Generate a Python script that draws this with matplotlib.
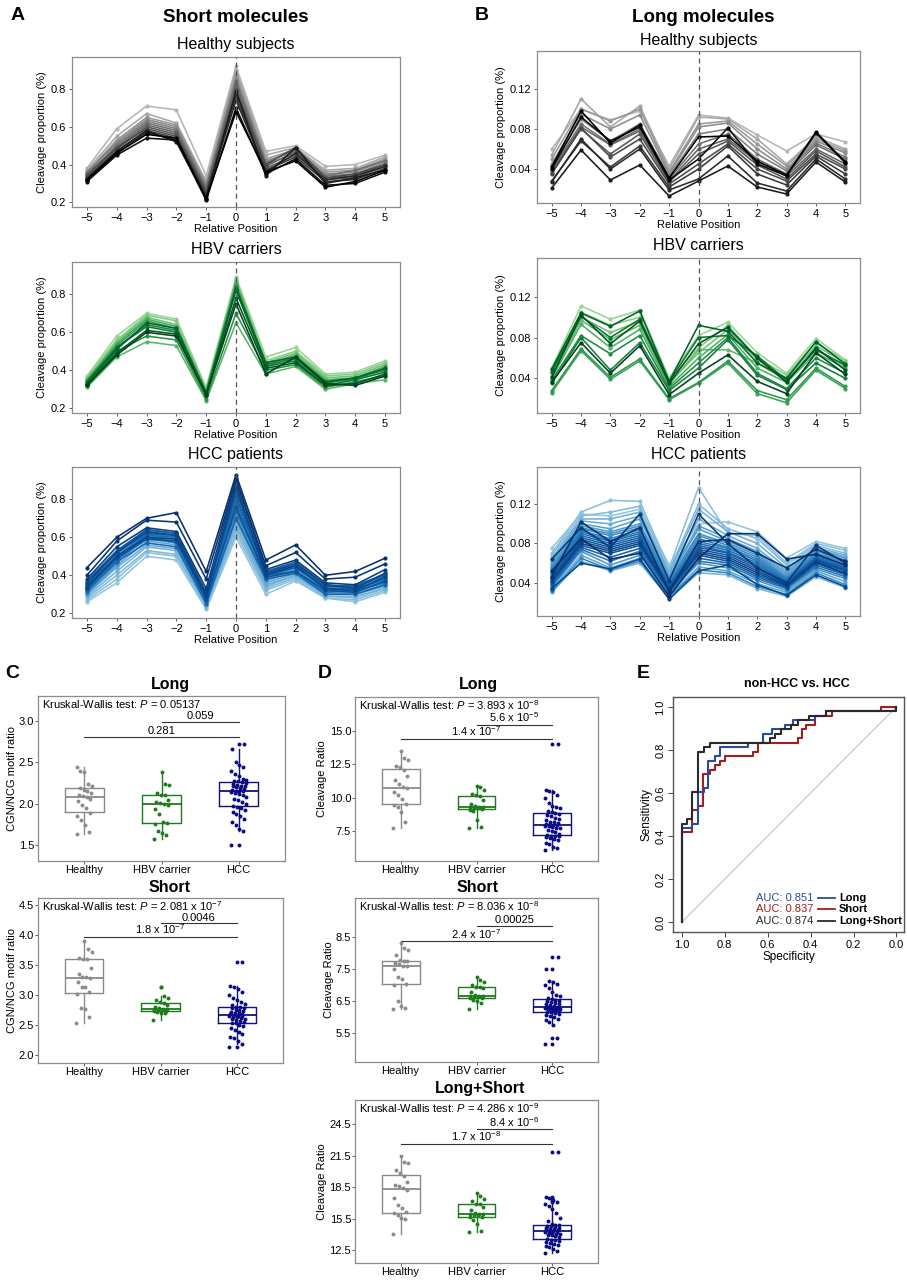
import numpy as np
import matplotlib
matplotlib.use("Agg")
import matplotlib.pyplot as plt

plt.rcParams["font.family"] = ["Liberation Sans", "DejaVu Sans"]
plt.rcParams["mathtext.fontset"] = "custom"
plt.rcParams["mathtext.rm"] = "Liberation Sans"
plt.rcParams["mathtext.it"] = "Liberation Sans:italic"
plt.rcParams["mathtext.bf"] = "Liberation Sans:bold"

# ---------------- data ----------------
positions = list(range(-5, 6))

short_healthy = [
    [0.38, 0.59, 0.71, 0.69, 0.34, 0.92, 0.47, 0.50, 0.39, 0.40, 0.45],
    [0.37, 0.55, 0.67, 0.62, 0.31, 0.90, 0.45, 0.49, 0.37, 0.38, 0.44],
    [0.36, 0.53, 0.65, 0.61, 0.30, 0.88, 0.43, 0.48, 0.36, 0.37, 0.43],
    [0.35, 0.52, 0.64, 0.60, 0.29, 0.86, 0.42, 0.47, 0.35, 0.36, 0.42],
    [0.36, 0.51, 0.63, 0.59, 0.28, 0.85, 0.41, 0.48, 0.34, 0.35, 0.41],
    [0.34, 0.50, 0.62, 0.58, 0.27, 0.84, 0.40, 0.46, 0.34, 0.37, 0.42],
    [0.35, 0.49, 0.61, 0.57, 0.27, 0.82, 0.39, 0.47, 0.33, 0.34, 0.40],
    [0.33, 0.48, 0.60, 0.56, 0.26, 0.80, 0.38, 0.45, 0.32, 0.33, 0.39],
    [0.34, 0.49, 0.59, 0.55, 0.25, 0.78, 0.40, 0.49, 0.33, 0.35, 0.40],
    [0.33, 0.47, 0.58, 0.54, 0.24, 0.76, 0.37, 0.44, 0.31, 0.32, 0.38],
    [0.32, 0.46, 0.57, 0.53, 0.23, 0.74, 0.36, 0.46, 0.32, 0.34, 0.39],
    [0.32, 0.47, 0.58, 0.52, 0.22, 0.79, 0.34, 0.49, 0.30, 0.33, 0.37],
    [0.31, 0.45, 0.54, 0.53, 0.21, 0.70, 0.35, 0.43, 0.29, 0.30, 0.36],
    [0.32, 0.46, 0.56, 0.54, 0.22, 0.68, 0.36, 0.42, 0.28, 0.31, 0.37],
]
short_hbv = [
    [0.37, 0.58, 0.70, 0.67, 0.31, 0.89, 0.47, 0.52, 0.38, 0.39, 0.45],
    [0.36, 0.56, 0.69, 0.66, 0.30, 0.88, 0.45, 0.50, 0.37, 0.38, 0.44],
    [0.35, 0.55, 0.68, 0.64, 0.29, 0.87, 0.44, 0.49, 0.36, 0.37, 0.43],
    [0.31, 0.47, 0.55, 0.53, 0.24, 0.65, 0.38, 0.42, 0.30, 0.33, 0.35],
    [0.34, 0.54, 0.67, 0.63, 0.29, 0.86, 0.43, 0.48, 0.35, 0.36, 0.42],
    [0.35, 0.53, 0.66, 0.62, 0.28, 0.85, 0.42, 0.47, 0.34, 0.35, 0.41],
    [0.32, 0.50, 0.58, 0.56, 0.25, 0.70, 0.40, 0.43, 0.31, 0.34, 0.37],
    [0.33, 0.52, 0.64, 0.61, 0.28, 0.84, 0.43, 0.46, 0.33, 0.36, 0.40],
    [0.34, 0.52, 0.63, 0.60, 0.27, 0.82, 0.42, 0.45, 0.32, 0.35, 0.39],
    [0.33, 0.51, 0.65, 0.62, 0.28, 0.83, 0.44, 0.47, 0.34, 0.36, 0.41],
    [0.32, 0.49, 0.61, 0.59, 0.27, 0.78, 0.41, 0.44, 0.32, 0.33, 0.38],
    [0.32, 0.48, 0.60, 0.58, 0.27, 0.75, 0.38, 0.47, 0.33, 0.32, 0.37],
]
short_hcc = [
    [0.26, 0.36, 0.50, 0.48, 0.22, 0.60, 0.30, 0.37, 0.28, 0.26, 0.31],
    [0.27, 0.38, 0.52, 0.50, 0.23, 0.62, 0.32, 0.38, 0.28, 0.27, 0.32],
    [0.28, 0.40, 0.53, 0.51, 0.24, 0.64, 0.33, 0.39, 0.29, 0.28, 0.33],
    [0.29, 0.42, 0.55, 0.53, 0.24, 0.66, 0.34, 0.40, 0.29, 0.29, 0.33],
    [0.30, 0.44, 0.56, 0.54, 0.25, 0.68, 0.35, 0.40, 0.30, 0.30, 0.34],
    [0.31, 0.45, 0.58, 0.56, 0.26, 0.70, 0.36, 0.41, 0.31, 0.30, 0.35],
    [0.32, 0.47, 0.59, 0.57, 0.26, 0.71, 0.37, 0.42, 0.31, 0.31, 0.35],
    [0.33, 0.48, 0.60, 0.58, 0.27, 0.73, 0.38, 0.43, 0.32, 0.32, 0.36],
    [0.30, 0.46, 0.62, 0.60, 0.26, 0.72, 0.39, 0.43, 0.33, 0.33, 0.37],
    [0.34, 0.49, 0.61, 0.59, 0.28, 0.75, 0.39, 0.44, 0.32, 0.32, 0.37],
    [0.35, 0.50, 0.62, 0.60, 0.29, 0.77, 0.40, 0.45, 0.33, 0.33, 0.38],
    [0.33, 0.51, 0.63, 0.61, 0.28, 0.78, 0.41, 0.44, 0.34, 0.34, 0.39],
    [0.36, 0.52, 0.64, 0.62, 0.30, 0.80, 0.42, 0.46, 0.34, 0.35, 0.40],
    [0.31, 0.48, 0.60, 0.57, 0.27, 0.74, 0.40, 0.42, 0.31, 0.32, 0.36],
    [0.34, 0.50, 0.61, 0.60, 0.28, 0.79, 0.41, 0.45, 0.33, 0.33, 0.38],
    [0.32, 0.47, 0.57, 0.55, 0.25, 0.70, 0.38, 0.41, 0.30, 0.30, 0.35],
    [0.35, 0.52, 0.62, 0.61, 0.30, 0.82, 0.40, 0.44, 0.34, 0.34, 0.40],
    [0.37, 0.53, 0.64, 0.62, 0.31, 0.84, 0.42, 0.47, 0.35, 0.34, 0.41],
    [0.33, 0.49, 0.59, 0.58, 0.27, 0.76, 0.39, 0.42, 0.32, 0.31, 0.37],
    [0.36, 0.52, 0.63, 0.61, 0.30, 0.86, 0.41, 0.46, 0.35, 0.33, 0.41],
    [0.34, 0.50, 0.60, 0.59, 0.29, 0.88, 0.40, 0.45, 0.33, 0.32, 0.39],
    [0.38, 0.55, 0.65, 0.63, 0.33, 0.90, 0.43, 0.48, 0.36, 0.35, 0.43],
    [0.40, 0.58, 0.69, 0.68, 0.38, 0.91, 0.45, 0.52, 0.38, 0.39, 0.46],
    [0.44, 0.60, 0.70, 0.73, 0.42, 0.93, 0.48, 0.56, 0.40, 0.42, 0.49],
]

long_healthy = [
    [0.060, 0.100, 0.089, 0.098, 0.043, 0.094, 0.091, 0.074, 0.058, 0.075, 0.067],
    [0.054, 0.110, 0.082, 0.103, 0.040, 0.092, 0.090, 0.070, 0.045, 0.072, 0.060],
    [0.050, 0.100, 0.088, 0.100, 0.037, 0.085, 0.088, 0.065, 0.043, 0.070, 0.058],
    [0.045, 0.095, 0.080, 0.094, 0.035, 0.082, 0.086, 0.060, 0.040, 0.068, 0.056],
    [0.043, 0.090, 0.068, 0.085, 0.033, 0.075, 0.080, 0.055, 0.038, 0.066, 0.052],
    [0.040, 0.085, 0.065, 0.080, 0.030, 0.065, 0.075, 0.050, 0.035, 0.064, 0.050],
    [0.038, 0.082, 0.064, 0.078, 0.028, 0.060, 0.070, 0.047, 0.033, 0.060, 0.045],
    [0.036, 0.080, 0.055, 0.075, 0.027, 0.055, 0.068, 0.044, 0.030, 0.058, 0.042],
    [0.035, 0.081, 0.052, 0.070, 0.025, 0.045, 0.065, 0.040, 0.028, 0.055, 0.040],
    [0.028, 0.068, 0.042, 0.063, 0.022, 0.040, 0.063, 0.035, 0.024, 0.053, 0.035],
    [0.027, 0.070, 0.040, 0.060, 0.019, 0.030, 0.053, 0.026, 0.018, 0.050, 0.030],
    [0.021, 0.059, 0.029, 0.044, 0.013, 0.028, 0.043, 0.022, 0.015, 0.047, 0.027],
    [0.040, 0.092, 0.068, 0.082, 0.029, 0.050, 0.081, 0.045, 0.033, 0.076, 0.046],
    [0.042, 0.098, 0.066, 0.084, 0.031, 0.072, 0.073, 0.048, 0.034, 0.077, 0.047],
]
long_hbv = [
    [0.050, 0.111, 0.098, 0.107, 0.040, 0.082, 0.095, 0.065, 0.045, 0.079, 0.058],
    [0.048, 0.105, 0.092, 0.100, 0.038, 0.070, 0.092, 0.060, 0.043, 0.075, 0.057],
    [0.045, 0.100, 0.085, 0.096, 0.036, 0.065, 0.088, 0.058, 0.040, 0.072, 0.055],
    [0.042, 0.097, 0.078, 0.092, 0.034, 0.068, 0.068, 0.055, 0.038, 0.068, 0.052],
    [0.040, 0.093, 0.070, 0.088, 0.032, 0.060, 0.083, 0.050, 0.036, 0.065, 0.050],
    [0.026, 0.067, 0.039, 0.057, 0.019, 0.035, 0.055, 0.025, 0.016, 0.048, 0.030],
    [0.028, 0.069, 0.041, 0.059, 0.020, 0.036, 0.057, 0.028, 0.019, 0.050, 0.032],
    [0.038, 0.082, 0.064, 0.082, 0.030, 0.055, 0.080, 0.045, 0.030, 0.060, 0.045],
    [0.035, 0.080, 0.048, 0.075, 0.028, 0.050, 0.078, 0.043, 0.029, 0.055, 0.040],
    [0.046, 0.101, 0.080, 0.098, 0.037, 0.080, 0.082, 0.062, 0.038, 0.068, 0.053],
    [0.049, 0.104, 0.091, 0.106, 0.037, 0.092, 0.086, 0.055, 0.040, 0.076, 0.054],
    [0.041, 0.102, 0.074, 0.096, 0.035, 0.074, 0.090, 0.060, 0.036, 0.070, 0.048],
    [0.036, 0.075, 0.045, 0.072, 0.024, 0.045, 0.063, 0.037, 0.025, 0.065, 0.044],
]
long_hcc = [
    [0.075, 0.110, 0.108, 0.115, 0.058, 0.100, 0.102, 0.092, 0.065, 0.082, 0.075],
    [0.070, 0.112, 0.124, 0.123, 0.055, 0.137, 0.090, 0.088, 0.060, 0.080, 0.073],
    [0.068, 0.108, 0.112, 0.118, 0.052, 0.120, 0.095, 0.085, 0.058, 0.078, 0.070],
    [0.030, 0.062, 0.052, 0.060, 0.024, 0.050, 0.048, 0.034, 0.026, 0.046, 0.035],
    [0.065, 0.105, 0.105, 0.112, 0.050, 0.115, 0.092, 0.080, 0.055, 0.076, 0.068],
    [0.062, 0.103, 0.100, 0.108, 0.048, 0.105, 0.088, 0.075, 0.052, 0.075, 0.066],
    [0.033, 0.068, 0.055, 0.065, 0.027, 0.056, 0.052, 0.039, 0.030, 0.052, 0.041],
    [0.060, 0.100, 0.095, 0.105, 0.046, 0.098, 0.085, 0.072, 0.050, 0.074, 0.065],
    [0.058, 0.098, 0.092, 0.100, 0.045, 0.095, 0.082, 0.070, 0.048, 0.072, 0.063],
    [0.035, 0.072, 0.058, 0.068, 0.029, 0.060, 0.055, 0.042, 0.032, 0.054, 0.044],
    [0.056, 0.096, 0.090, 0.098, 0.043, 0.090, 0.080, 0.068, 0.046, 0.070, 0.062],
    [0.055, 0.095, 0.088, 0.096, 0.042, 0.088, 0.078, 0.066, 0.045, 0.070, 0.060],
    [0.031, 0.065, 0.053, 0.062, 0.026, 0.053, 0.050, 0.036, 0.028, 0.050, 0.038],
    [0.053, 0.093, 0.085, 0.094, 0.040, 0.085, 0.076, 0.064, 0.044, 0.068, 0.058],
    [0.052, 0.092, 0.083, 0.092, 0.039, 0.082, 0.075, 0.062, 0.043, 0.067, 0.057],
    [0.036, 0.074, 0.062, 0.072, 0.030, 0.062, 0.058, 0.044, 0.034, 0.056, 0.046],
    [0.050, 0.090, 0.082, 0.090, 0.038, 0.080, 0.073, 0.060, 0.042, 0.066, 0.056],
    [0.048, 0.088, 0.080, 0.088, 0.037, 0.078, 0.071, 0.058, 0.041, 0.065, 0.055],
    [0.038, 0.076, 0.066, 0.075, 0.031, 0.065, 0.060, 0.046, 0.035, 0.058, 0.048],
    [0.046, 0.086, 0.078, 0.086, 0.036, 0.076, 0.070, 0.056, 0.040, 0.064, 0.054],
    [0.045, 0.084, 0.076, 0.084, 0.035, 0.074, 0.068, 0.054, 0.039, 0.063, 0.053],
    [0.040, 0.078, 0.070, 0.078, 0.032, 0.068, 0.062, 0.048, 0.036, 0.060, 0.049],
    [0.043, 0.082, 0.074, 0.082, 0.034, 0.072, 0.066, 0.052, 0.038, 0.062, 0.052],
    [0.034, 0.060, 0.054, 0.064, 0.023, 0.052, 0.058, 0.038, 0.027, 0.048, 0.036],
    [0.042, 0.080, 0.072, 0.080, 0.033, 0.070, 0.064, 0.050, 0.037, 0.061, 0.050],
    [0.064, 0.096, 0.076, 0.110, 0.042, 0.110, 0.080, 0.055, 0.040, 0.078, 0.060],
    [0.046, 0.102, 0.082, 0.096, 0.030, 0.082, 0.084, 0.070, 0.055, 0.074, 0.062],
    [0.052, 0.085, 0.064, 0.070, 0.026, 0.065, 0.090, 0.090, 0.064, 0.069, 0.058],
]

groups = ["Healthy", "HBV carrier", "HCC"]

# CGN/NCG motif ratio
motif_long_healthy = [1.63, 1.66, 1.75, 1.80, 1.85, 1.89, 1.95, 1.99, 2.03, 2.06, 2.08,
                      2.09, 2.11, 2.13, 2.15, 2.17, 2.19, 2.21, 2.24, 2.38, 2.40, 2.44]
motif_long_hbv = [1.58, 1.62, 1.65, 1.67, 1.76, 1.77, 1.78, 1.88, 1.94, 1.99,
                  2.00, 2.01, 2.02, 2.05, 2.10, 2.11, 2.13, 2.23, 2.24, 2.38]
motif_long_hcc = [1.50, 1.67, 1.70, 1.74, 1.78, 1.82, 1.85, 1.88, 1.90, 1.93, 1.95, 1.96,
                  1.97, 2.00, 2.02, 2.04, 2.06, 2.08, 2.10, 2.12, 2.13, 2.14, 2.15, 2.15,
                  2.16, 2.17, 2.18, 2.19, 2.20, 2.21, 2.22, 2.22, 2.23, 2.24, 2.25, 2.26,
                  2.27, 2.28, 2.29, 2.30, 2.33, 2.36, 2.40, 2.44, 2.47, 2.50, 2.66, 2.72]
motif_short_healthy = [2.54, 2.64, 2.77, 2.78, 3.02, 3.05, 3.13, 3.14, 3.22, 3.28,
                       3.30, 3.31, 3.36, 3.45, 3.60, 3.61, 3.62, 3.72, 3.77, 3.91]
motif_short_hbv = [2.59, 2.70, 2.71, 2.72, 2.73, 2.74, 2.75, 2.76, 2.76, 2.77,
                   2.77, 2.78, 2.80, 2.83, 2.87, 2.88, 2.92, 2.96, 2.99, 3.13]
motif_short_hcc = [2.14, 2.19, 2.23, 2.28, 2.31, 2.35, 2.39, 2.42, 2.45, 2.48, 2.50, 2.53,
                   2.54, 2.56, 2.57, 2.59, 2.60, 2.61, 2.62, 2.63, 2.64, 2.65, 2.66, 2.66,
                   2.67, 2.68, 2.69, 2.70, 2.71, 2.72, 2.74, 2.75, 2.76, 2.78, 2.79, 2.80,
                   2.81, 2.83, 2.86, 2.89, 2.92, 2.96, 3.00, 3.05, 3.10, 3.14, 3.16, 3.55]

# cleavage ratio
ratio_long_healthy = [7.7, 8.2, 8.9, 9.3, 9.45, 9.5, 9.9, 10.2, 10.4, 10.7,
                      10.8, 11.0, 11.3, 11.6, 12.1, 12.3, 12.4, 12.8, 13.0, 13.5]
ratio_long_hbv = [7.7, 7.8, 8.3, 9.0, 9.1, 9.15, 9.2, 9.25, 9.3, 9.3,
                  9.3, 9.4, 9.5, 9.8, 10.1, 10.2, 10.3, 10.6, 10.8, 10.9]
ratio_long_hcc = [6.1, 6.2, 6.3, 6.5, 6.6, 6.8, 6.9, 7.0, 7.05, 7.1, 7.12, 7.15,
                  7.2, 7.3, 7.4, 7.5, 7.6, 7.7, 7.75, 7.8, 7.85, 7.9, 7.92, 7.95,
                  7.97, 8.0, 8.1, 8.15, 8.2, 8.3, 8.4, 8.5, 8.6, 8.7, 8.8, 8.85,
                  8.9, 9.0, 9.2, 9.3, 9.4, 9.6, 10.0, 10.2, 10.4, 10.5, 10.6, 14.0]
ratio_short_healthy = [6.25, 6.3, 6.35, 6.5, 7.0, 7.05, 7.2, 7.25, 7.5, 7.6,
                       7.6, 7.65, 7.7, 7.75, 7.75, 7.8, 7.95, 8.1, 8.15, 8.3]
ratio_short_hbv = [6.25, 6.45, 6.5, 6.55, 6.6, 6.6, 6.62, 6.63, 6.65, 6.65,
                   6.66, 6.7, 6.8, 6.9, 6.95, 6.95, 7.0, 7.1, 7.15, 7.25]
ratio_short_hcc = [5.15, 5.35, 5.75, 5.85, 5.9, 5.95, 6.0, 6.05, 6.08, 6.1, 6.12, 6.15,
                   6.17, 6.18, 6.2, 6.22, 6.23, 6.24, 6.25, 6.26, 6.27, 6.28, 6.29, 6.3,
                   6.31, 6.32, 6.33, 6.35, 6.37, 6.4, 6.42, 6.45, 6.48, 6.5, 6.52, 6.55,
                   6.57, 6.6, 6.65, 6.7, 6.8, 6.9, 7.0, 7.05, 7.1, 7.12, 7.5, 7.87]
ratio_both_healthy = [14.0, 15.5, 15.6, 15.8, 16.0, 16.1, 16.5, 16.8, 17.5, 18.2,
                      18.4, 18.6, 18.7, 19.0, 19.6, 19.8, 20.1, 20.8, 20.9, 21.5]
ratio_both_hbv = [14.2, 14.3, 15.0, 15.4, 15.7, 15.7, 15.8, 15.85, 15.9, 15.9,
                  15.95, 16.0, 16.3, 16.6, 16.85, 16.9, 17.2, 17.4, 17.7, 17.9]
ratio_both_hcc = [12.2, 12.4, 12.6, 12.8, 12.9, 13.0, 13.1, 13.2, 13.3, 13.4, 13.45, 13.5,
                  13.6, 13.7, 13.8, 13.9, 13.95, 14.0, 14.05, 14.1, 14.15, 14.2, 14.25, 14.3,
                  14.35, 14.4, 14.45, 14.5, 14.55, 14.6, 14.65, 14.7, 14.75, 14.8, 14.85, 14.9,
                  15.0, 15.3, 15.6, 16.0, 16.4, 16.7, 16.9, 17.1, 17.3, 17.5, 17.6, 21.8]

# ROC curves (specificity, sensitivity step vertices)
roc_long_spec = [1.0, 1.0, 0.951, 0.951, 0.925, 0.925, 0.897, 0.897, 0.875, 0.875, 0.845, 0.845,
                 0.82, 0.82, 0.69, 0.69, 0.62, 0.62, 0.58, 0.58, 0.52, 0.52, 0.48, 0.48,
                 0.38, 0.38, 0.33, 0.33, 0.0, 0.0]
roc_long_sens = [0.0, 0.438, 0.438, 0.458, 0.458, 0.604, 0.604, 0.625, 0.625, 0.75, 0.75, 0.771,
                 0.771, 0.812, 0.812, 0.833, 0.833, 0.875, 0.875, 0.896, 0.896, 0.917, 0.917, 0.938,
                 0.938, 0.958, 0.958, 0.979, 0.979, 1.0]
roc_short_spec = [1.0, 1.0, 0.951, 0.951, 0.925, 0.925, 0.90, 0.90, 0.87, 0.87, 0.845, 0.845,
                  0.82, 0.82, 0.80, 0.80, 0.667, 0.667, 0.644, 0.644, 0.46, 0.46, 0.44, 0.44,
                  0.42, 0.42, 0.38, 0.38, 0.30, 0.30, 0.07, 0.07, 0.0]
roc_short_sens = [0.0, 0.417, 0.417, 0.521, 0.521, 0.542, 0.542, 0.688, 0.688, 0.708, 0.708, 0.729,
                  0.729, 0.75, 0.75, 0.771, 0.771, 0.792, 0.792, 0.833, 0.833, 0.854, 0.854, 0.896,
                  0.896, 0.917, 0.917, 0.958, 0.958, 0.979, 0.979, 1.0, 1.0]
roc_both_spec = [1.0, 1.0, 0.977, 0.977, 0.951, 0.951, 0.925, 0.925, 0.897, 0.897, 0.87, 0.87,
                 0.59, 0.59, 0.567, 0.567, 0.536, 0.536, 0.49, 0.49, 0.46, 0.46, 0.405, 0.405,
                 0.33, 0.33, 0.0, 0.0]
roc_both_sens = [0.0, 0.458, 0.458, 0.479, 0.479, 0.604, 0.604, 0.792, 0.792, 0.812, 0.812, 0.833,
                 0.833, 0.854, 0.854, 0.875, 0.875, 0.896, 0.896, 0.917, 0.917, 0.938, 0.938, 0.958,
                 0.958, 0.979, 0.979, 1.0]
roc_auc = {"Long": 0.851, "Short": 0.837, "Long+Short": 0.874}

# ---------------- layout helpers ----------------
W, H = 907, 1280
fig = plt.figure(figsize=(W / 100, H / 100), dpi=100)

BOX_COLS = ["#8a8a8a", "#1f7a1f", "#12127a"]
PT_COLS = ["#8c8c8c", "#1d7d1d", "#0b0b85"]


def add_ax(l, t, r, b):
    return fig.add_axes([l / W, 1 - b / H, (r - l) / W, (b - t) / H])


def ftext(x, y, s, **kw):
    fig.text(x / W, 1 - y / H, s, **kw)


def style_gg(ax, pad=1.5, length=2.5):
    for sp in ax.spines.values():
        sp.set_color("#8c8c8c")
        sp.set_linewidth(0.9)
    ax.tick_params(length=length, width=0.6, color="#444444", labelsize=8, pad=pad,
                   labelcolor="black")


def line_panel(box, rows, cmap, ylim, yticks, ylabels, title, title_y):
    ax = add_ax(*box)
    shades = plt.get_cmap(cmap)(np.linspace(0.4, 1.0, len(rows)))
    for row, c in zip(rows, shades):
        ax.plot(positions, row, "-o", color=c, lw=1.15, ms=2, zorder=2)
    ax.axvline(0, color="#555555", lw=0.9, ls=(0, (4, 3)), zorder=3)
    ax.set_xlim(-5.5, 5.5)
    ax.set_ylim(*ylim)
    ax.set_xticks(positions)
    ax.set_xticklabels([str(p).replace("-", "\u2212") for p in positions])
    ax.set_yticks(yticks)
    ax.set_yticklabels(ylabels)
    ax.set_xlabel("Relative Position", fontsize=8, labelpad=1)
    ax.set_ylabel("Cleavage proportion (%)", fontsize=8, labelpad=3)
    style_gg(ax)
    ftext((box[0] + box[2]) / 2, title_y, title, ha="center", va="center", fontsize=11.5)
    return ax


def box_panel(box, data, ylim, yticks, ylabel, title, title_xy, kw_text, sig):
    ax = add_ax(*box)
    for i, (vals, col, pcol) in enumerate(zip(data, BOX_COLS, PT_COLS)):
        x = i + 1
        ax.boxplot([vals], positions=[x], widths=0.5, whis=1.5, manage_ticks=False,
                   showcaps=False,
                   boxprops=dict(color=col, lw=1.0),
                   medianprops=dict(color=col, lw=1.3),
                   whiskerprops=dict(color=col, lw=1.0),
                   flierprops=dict(marker="o", markersize=2.8, markerfacecolor=pcol,
                                   markeredgecolor="none"))
        n = len(vals)
        jit = ((np.arange(n) * 37) % 21 - 10) / 10 * 0.1
        ax.scatter(x + jit, vals, s=8, color=pcol, lw=0, zorder=3)
    for x1, x2, y, lab in sig:
        ax.plot([x1, x2], [y, y], color="#333333", lw=0.8)
        ax.annotate(lab, ((x1 + x2) / 2, y), xytext=(0, 0.5), textcoords="offset points",
                    ha="center", va="bottom", fontsize=8)
    ax.text(0.015, 0.99, kw_text, transform=ax.transAxes, ha="left", va="top", fontsize=8)
    ax.set_xlim(0.4, 3.6)
    ax.set_ylim(*ylim)
    ax.set_xticks([1, 2, 3])
    ax.set_xticklabels(groups)
    ax.set_yticks(yticks)
    ax.set_ylabel(ylabel, fontsize=8, labelpad=1.5)
    style_gg(ax, pad=0.8, length=2)
    ftext(title_xy[0], title_xy[1], title, ha="center", va="center", fontsize=11.5,
          fontweight="bold")
    return ax


# ---------------- panels A & B ----------------
ftext(18, 16, "A", fontsize=14, fontweight="bold", ha="center", va="center")
ftext(482, 15, "B", fontsize=14, fontweight="bold", ha="center", va="center")
ftext(236, 18, "Short molecules", fontsize=13.5, fontweight="bold", ha="center", va="center")
ftext(703, 17, "Long molecules", fontsize=13.5, fontweight="bold", ha="center", va="center")

a_ticks = [0.2, 0.4, 0.6, 0.8]
a_labels = ["0.2", "0.4", "0.6", "0.8"]
b_ticks = [0.04, 0.08, 0.12]
b_labels = ["0.04", "0.08", "0.12"]

line_panel((72, 57, 400, 207), short_healthy, "Greys", (0.175, 0.97), a_ticks, a_labels,
           "Healthy subjects", 44)
line_panel((72, 262, 400, 413), short_hbv, "Greens", (0.175, 0.97), a_ticks, a_labels,
           "HBV carriers", 250)
line_panel((72, 467, 400, 618), short_hcc, "Blues", (0.175, 0.97), a_ticks, a_labels,
           "HCC patients", 455)
line_panel((537, 51, 860, 203), long_healthy, "Greys", (0.006, 0.158), b_ticks, b_labels,
           "Healthy subjects", 40)
line_panel((537, 258, 860, 413), long_hbv, "Greens", (0.006, 0.158), b_ticks, b_labels,
           "HBV carriers", 246)
line_panel((537, 467, 860, 616), long_hcc, "Blues", (0.006, 0.158), b_ticks, b_labels,
           "HCC patients", 455)

# ---------------- panel C ----------------
ftext(12, 673, "C", fontsize=14, fontweight="bold", ha="center", va="center")
box_panel((38, 696, 285, 861), [motif_long_healthy, motif_long_hbv, motif_long_hcc],
          (1.31, 3.30), [1.5, 2.0, 2.5, 3.0], "CGN/NCG motif ratio", "Long", (170, 685),
          r"Kruskal-Wallis test: $P$ = 0.05137",
          [(2, 3, 2.99, "0.059"), (1, 3, 2.81, "0.281")])
box_panel((38, 898, 283, 1063), [motif_short_healthy, motif_short_hbv, motif_short_hcc],
          (1.87, 4.62), [2.0, 2.5, 3.0, 3.5, 4.0, 4.5], "CGN/NCG motif ratio", "Short",
          (170, 887), r"Kruskal-Wallis test: $P$ = 2.081 x 10$^{-7}$",
          [(2, 3, 4.20, "0.0046"), (1, 3, 3.97, r"1.8 x 10$^{-7}$")])

# ---------------- panel D ----------------
ftext(325, 673, "D", fontsize=14, fontweight="bold", ha="center", va="center")
box_panel((355, 697, 598, 861), [ratio_long_healthy, ratio_long_hbv, ratio_long_hcc],
          (5.25, 17.55), [7.5, 10.0, 12.5, 15.0], "Cleavage Ratio", "Long", (478, 685),
          r"Kruskal-Wallis test: $P$ = 3.893 x 10$^{-8}$",
          [(2, 3, 15.45, r"5.6 x 10$^{-5}$"), (1, 3, 14.4, r"1.4 x 10$^{-7}$")])
box_panel((355, 898, 598, 1062), [ratio_short_healthy, ratio_short_hbv, ratio_short_hcc],
          (4.6, 9.72), [5.5, 6.5, 7.5, 8.5], "Cleavage Ratio", "Short", (478, 887),
          r"Kruskal-Wallis test: $P$ = 8.036 x 10$^{-8}$",
          [(2, 3, 8.84, "0.00025"), (1, 3, 8.37, r"2.4 x 10$^{-7}$")])
box_panel((355, 1100, 598, 1263), [ratio_both_healthy, ratio_both_hbv, ratio_both_hcc],
          (11.27, 26.8), [12.5, 15.5, 18.5, 21.5, 24.5], "Cleavage Ratio", "Long+Short",
          (480, 1088), r"Kruskal-Wallis test: $P$ = 4.286 x 10$^{-9}$",
          [(2, 3, 24.0, r"8.4 x 10$^{-6}$"), (1, 3, 22.6, r"1.7 x 10$^{-8}$")])

# ---------------- panel E ----------------
ftext(643, 673, "E", fontsize=14, fontweight="bold", ha="center", va="center")
ftext(797, 684, "non-HCC vs. HCC", fontsize=9, fontweight="bold", ha="center", va="center")
axE = add_ax(673, 697, 904, 932)
axE.plot([1, 0], [0, 1], color="#c8c8c8", lw=0.9)
roc_cols = {"Long": "#2b4a9b", "Short": "#a31d1d", "Long+Short": "#2a2a2a"}
axE.plot(roc_short_spec, roc_short_sens, color=roc_cols["Short"], lw=1.5)
axE.plot(roc_long_spec, roc_long_sens, color=roc_cols["Long"], lw=1.5)
axE.plot(roc_both_spec, roc_both_sens, color=roc_cols["Long+Short"], lw=1.5)
axE.set_xlim(1.04, -0.035)
axE.set_ylim(-0.045, 1.046)
e_ticks = [1.0, 0.8, 0.6, 0.4, 0.2, 0.0]
axE.set_xticks(e_ticks)
axE.set_xticklabels([f"{t:.1f}" for t in e_ticks])
axE.set_yticks(e_ticks)
axE.set_yticklabels([f"{t:.1f}" for t in e_ticks], rotation=90, va="center")
axE.set_xlabel("Specificity", fontsize=8.5, labelpad=1)
axE.set_ylabel("Sensitivity", fontsize=8.5, labelpad=2)
for sp in axE.spines.values():
    sp.set_color("#555555")
    sp.set_linewidth(1.0)
axE.tick_params(length=3.5, width=0.7, color="#444444", labelsize=8, pad=2)

for (name, auc), y in zip(roc_auc.items(), [898, 909, 921]):
    c = roc_cols[name]
    ftext(813, y, f"AUC: {auc:.3f}", color=c, fontsize=8, ha="right", va="center")
    fig.add_artist(plt.Line2D([818 / W, 835 / W], [1 - y / H, 1 - y / H], color=c, lw=1.3))
    ftext(839, y, name, fontsize=8, fontweight="bold", ha="left", va="center")

fig.savefig("out.png", dpi=100)
